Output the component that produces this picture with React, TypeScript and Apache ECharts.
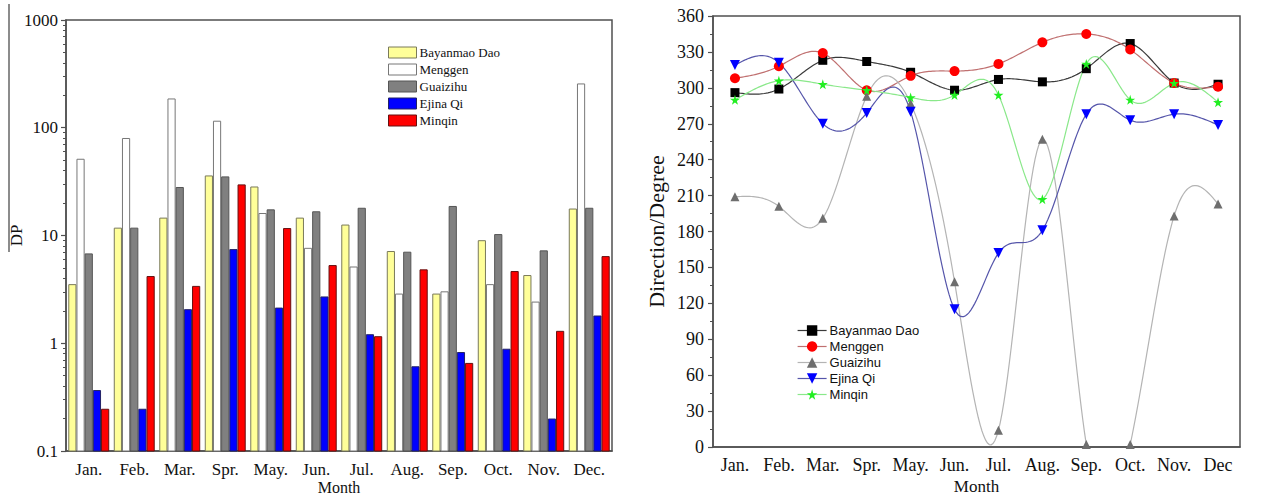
import React, { useEffect, useRef } from 'react';
import * as echarts from 'echarts';

// Month labels for the two panels
const monthsDP = ['Jan.', 'Feb.', 'Mar.', 'Spr.', 'May.', 'Jun.', 'Jul.', 'Aug.', 'Sep.', 'Oct.', 'Nov.', 'Dec.'];
const monthsDir = ['Jan.', 'Feb.', 'Mar.', 'Spr.', 'May.', 'Jun.', 'Jul.', 'Aug.', 'Sep.', 'Oct.', 'Nov.', 'Dec'];

const stations = ['Bayanmao Dao', 'Menggen', 'Guaizihu', 'Ejina Qi', 'Minqin'];

// Monthly drift potential (DP), log scale
const dpBayanmao = [3.5, 11.7, 14.5, 35.7, 28.2, 14.5, 12.5, 7.1, 2.86, 8.95, 4.25, 17.6];
const dpMenggen = [51, 79.5, 185, 115, 16, 7.6, 5.1, 2.86, 3.0, 3.5, 2.41, 255];
const dpGuaizihu = [6.75, 11.7, 27.9, 35, 17.3, 16.6, 17.9, 7.0, 18.6, 10.2, 7.2, 17.9];
const dpEjina = [0.364, 0.244, 2.05, 7.4, 2.12, 2.69, 1.2, 0.605, 0.82, 0.88, 0.198, 1.79];
const dpMinqin = [0.244, 4.16, 3.37, 29.5, 11.6, 5.26, 1.15, 4.8, 0.65, 4.63, 1.29, 6.37];

// Monthly resultant drift direction (degrees)
const dirBayanmao = [296, 299, 323, 322, 313, 298, 307, 305, 316, 337, 304, 303];
const dirMenggen = [308, 318, 329, 298, 310, 314, 320, 338, 345, 332, 304, 301];
const dirGuaizihu = [209, 201, 191, 293, 287, 138, 14, 257, 2, 2, 193, 203];
const dirEjina = [319, 321, 270, 279, 280, 115, 162, 181, 278, 273, 278, 269];
const dirMinqin = [290, 306, 303, 298, 292, 294, 294, 207, 320, 290, 304, 288];

const dpRange = { min: 0.1, max: 1000 };
const dirTicks = { min: 0, max: 360, interval: 30 };

const dpSeries = [dpBayanmao, dpMenggen, dpGuaizihu, dpEjina, dpMinqin];
const dirSeries = [dirBayanmao, dirMenggen, dirGuaizihu, dirEjina, dirMinqin];

const barFill = ['#ffff99', '#ffffff', '#808080', '#0000ff', '#ff0000'];
const barBorder = ['#7a7a5a', '#777777', '#555555', '#222266', '#661111'];

const markerColor = ['#000000', '#ff0000', '#6e6e6e', '#0000ff', '#22ee22'];
const curveColor = ['#3a3a3a', '#c07070', '#b4b4b4', '#5555aa', '#8ae88a'];
const STAR = 'path://M50,0 L61,35 L98,35 L68,57 L79,91 L50,70 L21,91 L32,57 L2,35 L39,35 Z';
const markerSymbol = ['rect', 'circle', 'triangle', 'triangle', STAR];
const markerRotate = [0, 0, 0, 180, 0];
const markerSize = [9, 10, 9, 10, 10];

const DIR = ' \u00b7dir';
const SERIF = '"Liberation Serif", "Times New Roman", serif';
const SANS = '"Liberation Sans", Arial, sans-serif';
const AXIS = '#505050';
const GROUP_SHARE = 0.9; // share of each month band taken by the five bars

// Natural cubic spline through pixel points, sampled densely for drawing
function naturalSpline(pts: number[][], steps: number): number[][] {
  const n = pts.length;
  const xs = pts.map((p) => p[0]);
  const ys = pts.map((p) => p[1]);
  const h: number[] = [];
  for (let i = 0; i < n - 1; i++) h[i] = xs[i + 1] - xs[i];
  const M = new Array(n).fill(0);
  if (n > 2) {
    const cp: number[] = [];
    const dp: number[] = [];
    for (let i = 1; i <= n - 2; i++) {
      const a = h[i - 1];
      const b = 2 * (h[i - 1] + h[i]);
      const c = h[i];
      const d = 6 * ((ys[i + 1] - ys[i]) / h[i] - (ys[i] - ys[i - 1]) / h[i - 1]);
      if (i === 1) {
        cp[i] = c / b;
        dp[i] = d / b;
      } else {
        const m = b - a * cp[i - 1];
        cp[i] = c / m;
        dp[i] = (d - a * dp[i - 1]) / m;
      }
    }
    M[n - 2] = dp[n - 2];
    for (let i = n - 3; i >= 1; i--) M[i] = dp[i] - cp[i] * M[i + 1];
  }
  const out: number[][] = [];
  for (let i = 0; i < n - 1; i++) {
    const hi = h[i];
    for (let s = 0; s < steps; s++) {
      const x = xs[i] + (hi * s) / steps;
      const A = xs[i + 1] - x;
      const B = x - xs[i];
      const y =
        (A * A * A * M[i] + B * B * B * M[i + 1]) / (6 * hi) +
        (ys[i] / hi - (M[i] * hi) / 6) * A +
        (ys[i + 1] / hi - (M[i + 1] * hi) / 6) * B;
      out.push([x, y]);
    }
  }
  out.push([xs[n - 1], ys[n - 1]]);
  return out;
}

function buildOption() {
  const labelStyle = { fontFamily: SERIF, color: '#111' };
  const nBars = stations.length;

  // Grouped bars rising from the bottom of the log axis
  const bars = stations.map((name, j) => ({
    type: 'custom',
    name,
    xAxisIndex: 0,
    yAxisIndex: 0,
    itemStyle: { color: barFill[j], borderColor: barBorder[j], borderWidth: 1 },
    data: dpSeries[j].map((v, k) => [k, v]),
    renderItem: (params: any, api: any) => {
      const k = api.value(0);
      const v = api.value(1);
      const top = api.coord([k, v]);
      const base = api.coord([k, dpRange.min]);
      const band = api.size([1, 1])[0];
      const w = (band * GROUP_SHARE) / nBars;
      const x0 = top[0] - (band * GROUP_SHARE) / 2 + j * w;
      return {
        type: 'rect',
        shape: { x: x0 + 0.5, y: top[1], width: w - 1, height: base[1] - top[1] },
        style: { fill: barFill[j], stroke: barBorder[j], lineWidth: 1 },
      };
    },
  }));

  const curves = stations.map((name, i) => {
    const values = dirSeries[i];
    return {
      type: 'custom',
      name: name + ' curve',
      xAxisIndex: 1,
      yAxisIndex: 1,
      z: 2,
      clip: true,
      silent: true,
      data: values.map((v, k) => [k, v]),
      renderItem: (params: any, api: any) => {
        if (params.dataIndex !== 0) return null;
        const pts = values.map((v, k) => api.coord([k, v]));
        const cs = params.coordSys;
        return {
          type: 'polyline',
          shape: { points: naturalSpline(pts, 24) },
          style: { stroke: curveColor[i], lineWidth: 1.2, fill: null },
          clipPath: { type: 'rect', shape: { x: cs.x, y: cs.y, width: cs.width, height: cs.height } },
        };
      },
    };
  });

  const markers = stations.map((name, i) => ({
    type: 'line',
    name: name + DIR,
    xAxisIndex: 1,
    yAxisIndex: 1,
    z: 4,
    data: dirSeries[i],
    symbol: markerSymbol[i],
    symbolSize: markerSize[i],
    symbolRotate: markerRotate[i],
    showAllSymbol: true,
    itemStyle: { color: markerColor[i] },
    lineStyle: { opacity: 0, width: 1.2, color: curveColor[i] },
  }));

  return {
    animation: false,
    backgroundColor: '#ffffff',
    grid: [
      { left: 66, top: 20, width: 546, height: 433, show: true, borderColor: AXIS, borderWidth: 1.5, backgroundColor: 'transparent' },
      { left: 713, top: 16, width: 527, height: 435, show: true, borderColor: AXIS, borderWidth: 1.5, backgroundColor: 'transparent' },
    ],
    legend: [
      {
        orient: 'vertical',
        left: 383,
        top: 41,
        itemWidth: 28,
        itemHeight: 11,
        itemGap: 4,
        data: stations.map((s, j) => ({
          name: s,
          icon: 'rect',
          itemStyle: { color: barFill[j], borderColor: barBorder[j], borderWidth: 1 },
        })),
        textStyle: { fontFamily: SERIF, fontSize: 13, color: '#111', padding: [0, 0, 0, -2] },
      },
      {
        orient: 'vertical',
        left: 792,
        top: 319,
        itemWidth: 29,
        itemHeight: 13,
        itemGap: 3,
        data: stations.map((s, i) => ({
          name: s + DIR,
          lineStyle: { color: curveColor[i], width: 1.2, opacity: 1 },
        })),
        formatter: (n: string) => n.replace(DIR, ''),
        textStyle: { fontFamily: SANS, fontSize: 13, color: '#111', padding: [0, 0, 0, -2] },
      },
    ],
    xAxis: [
      {
        gridIndex: 0,
        type: 'category',
        data: monthsDP,
        axisLine: { lineStyle: { color: AXIS, width: 1.5 } },
        axisTick: { alignWithLabel: true, length: 5, lineStyle: { color: AXIS, width: 1.2 } },
        axisLabel: { ...labelStyle, fontSize: 17, interval: 0, margin: 10 },
        name: 'Month',
        nameLocation: 'middle',
        nameMoveOverlap: false,
        nameGap: 28,
        nameTextStyle: { ...labelStyle, fontSize: 16 },
      },
      {
        gridIndex: 1,
        type: 'category',
        data: monthsDir,
        axisLine: { lineStyle: { color: AXIS, width: 1.5 } },
        axisTick: { alignWithLabel: true, length: 5, lineStyle: { color: AXIS, width: 1.2 } },
        axisLabel: { ...labelStyle, fontSize: 18, interval: 0, margin: 9 },
        name: 'Month',
        nameLocation: 'middle',
        nameMoveOverlap: false,
        nameGap: 31,
        nameTextStyle: { ...labelStyle, fontSize: 17 },
      },
    ],
    yAxis: [
      {
        gridIndex: 0,
        type: 'log',
        logBase: 10,
        min: dpRange.min,
        max: dpRange.max,
        axisLine: { show: true, lineStyle: { color: AXIS, width: 1.5 } },
        axisTick: { show: true, length: 5, lineStyle: { color: AXIS, width: 1.2 } },
        minorTick: { show: true, splitNumber: 9, length: 3, lineStyle: { color: AXIS, width: 1 } },
        splitLine: { show: false },
        axisLabel: {
          ...labelStyle,
          fontSize: 17,
          margin: 8,
          formatter: (v: number) => String(Number(v.toPrecision(3))),
        },
        name: 'DP',
        nameLocation: 'middle',
        nameMoveOverlap: false,
        nameGap: 41,
        nameTextStyle: { ...labelStyle, fontSize: 17 },
      },
      {
        gridIndex: 1,
        type: 'value',
        min: dirTicks.min,
        max: dirTicks.max,
        interval: dirTicks.interval,
        axisLine: { show: true, lineStyle: { color: AXIS, width: 1.5 } },
        axisTick: { show: true, length: 5, lineStyle: { color: AXIS, width: 1.2 } },
        minorTick: { show: true, splitNumber: 2, length: 3, lineStyle: { color: AXIS, width: 1 } },
        splitLine: { show: false },
        axisLabel: { ...labelStyle, fontSize: 18, margin: 9 },
        name: 'Direction/Degree',
        nameLocation: 'middle',
        nameMoveOverlap: false,
        nameGap: 46,
        nameTextStyle: { ...labelStyle, fontSize: 22 },
      },
    ],
    graphic: [
      {
        type: 'line',
        shape: { x1: 9, y1: 4, x2: 9, y2: 252 },
        style: { stroke: '#666666', lineWidth: 1.5 },
        silent: true,
      },
    ],
    series: [...bars, ...curves, ...markers],
  };
}

export default function App() {
  const ref = useRef<HTMLDivElement>(null);
  useEffect(() => {
    if (!ref.current) return;
    const chart = echarts.init(ref.current, undefined, { renderer: 'svg' });
    chart.setOption(buildOption() as any);
    return () => chart.dispose();
  }, []);
  return (
    <div
      ref={ref}
      style={{ position: 'absolute', left: 0, top: 0, width: 1261, height: 500, background: '#fff' }}
    />
  );
}
